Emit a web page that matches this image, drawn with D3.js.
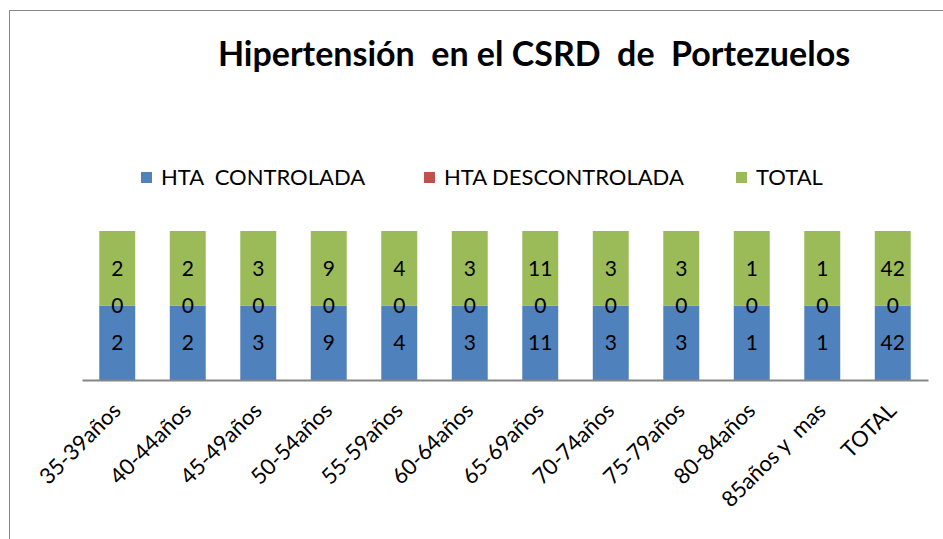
<!DOCTYPE html>
<html>
<head>
<meta charset="utf-8">
<script src="https://cdn.jsdelivr.net/npm/d3@7"></script>
<style>
  body { margin: 0; background: #fff; }
  svg { display: block; font-family: Lato, "Open Sans", sans-serif; }
</style>
</head>
<body>
<div id="chart"></div>
<script>
// chart data
const categories = ["35-39años", "40-44años", "45-49años", "50-54años", "55-59años", "60-64años",
  "65-69años", "70-74años", "75-79años", "80-84años", "85años y  mas", "TOTAL"];
const controlada = [2, 2, 3, 9, 4, 3, 11, 3, 3, 1, 1, 42];
const descontrolada = [0, 0, 0, 0, 0, 0, 0, 0, 0, 0, 0, 0];
const total = [2, 2, 3, 9, 4, 3, 11, 3, 3, 1, 1, 42];
const seriesNames = ["HTA  CONTROLADA", "HTA DESCONTROLADA", "TOTAL"];
const colors = ["#4F81BD", "#C0504D", "#9BBB59"];

const width = 943, height = 539;
const svg = d3.select("#chart").append("svg").attr("width", width).attr("height", height);

// outer chart border (left + top visible)
svg.append("path")
  .attr("d", `M9.5,${height} V10.5 H${width}`)
  .attr("fill", "none").attr("stroke", "#868686").attr("stroke-width", 1);

svg.append("text")
  .attr("x", 534).attr("y", 66)
  .attr("text-anchor", "middle")
  .attr("font-size", 34).attr("font-weight", "bold")
  .style("white-space", "pre")
  .text("Hipertensión  en el CSRD  de  Portezuelos");

// legend
const legendX = [141, 424, 736];
const lg = svg.append("g");
seriesNames.forEach((name, i) => {
  lg.append("rect").attr("x", legendX[i]).attr("y", 172).attr("width", 11).attr("height", 11).attr("fill", colors[i]);
  lg.append("text").attr("x", legendX[i] + 20).attr("y", 185)
    .attr("font-size", 22).style("white-space", "pre").text(name);
});

const rows = categories.map((c, i) => ({ cat: c, s0: controlada[i], s1: descontrolada[i], s2: total[i] }));
const stack = d3.stack().keys(["s0", "s1", "s2"]).offset(d3.stackOffsetExpand);
const layers = stack(rows);

const x = d3.scaleBand().domain(categories).range([82, 928]).paddingInner(0.49).paddingOuter(0.245);
const y = d3.scaleLinear().domain([0, 1]).range([380, 231]);

const g = svg.append("g");
layers.forEach((layer, li) => {
  g.selectAll(null).data(layer).join("rect")
    .attr("x", d => x(d.data.cat))
    .attr("y", d => y(d[1]))
    .attr("width", x.bandwidth())
    .attr("height", d => y(d[0]) - y(d[1]))
    .attr("fill", colors[li]);
});
layers.forEach(layer => {
  g.selectAll(null).data(layer).join("text")
    .attr("x", d => x(d.data.cat) + x.bandwidth() / 2)
    .attr("y", d => (y(d[0]) + y(d[1])) / 2)
    .attr("dy", "0.36em")
    .attr("text-anchor", "middle")
    .attr("font-size", 21)
    .text(d => d.data[layer.key]);
});

// x axis
const xAxis = svg.append("g").attr("transform", "translate(0,380)")
  .call(d3.axisBottom(x).tickSize(0).tickPadding(0));
xAxis.select(".domain").attr("stroke", "#868686").attr("stroke-width", 2);
xAxis.selectAll("text")
  .attr("font-size", 22).attr("font-family", "Lato, 'Open Sans', sans-serif").attr("fill", "#000")
  .style("white-space", "pre")
  .attr("text-anchor", "end")
  .attr("dy", 0).attr("y", 0)
  .attr("transform", "translate(5,32) rotate(-45)");
</script>
</body>
</html>
